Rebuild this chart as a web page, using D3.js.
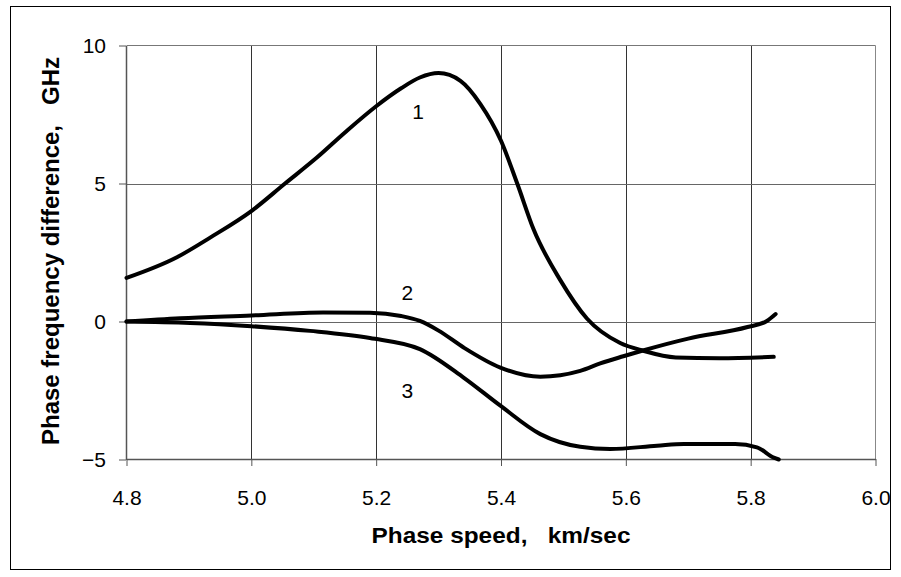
<!DOCTYPE html>
<html>
<head>
<meta charset="utf-8">
<script src="https://cdn.jsdelivr.net/npm/d3@7"></script>
<style>
  html, body { margin: 0; padding: 0; background: #fff; }
  svg { display: block; }
  text { font-family: "Liberation Sans", Arial, sans-serif; fill: #000; }
</style>
</head>
<body>
<svg id="chart" width="901" height="577"></svg>
<script>
// ---- data ----
const xTicks = [4.8, 5.0, 5.2, 5.4, 5.6, 5.8, 6.0];
const yTicks = [-5, 0, 5, 10];
const xTitle = "Phase speed,   km/sec";
const yTitle = "Phase frequency difference,   GHz";

const curve1 = [
  [4.80, 1.58], [4.88, 2.32], [4.934, 3.04], [5.00, 4.00], [5.054, 5.00],
  [5.105, 5.94], [5.15, 6.85], [5.20, 7.80], [5.24, 8.45], [5.27, 8.84],
  [5.30, 9.00], [5.335, 8.72], [5.367, 7.88], [5.40, 6.55], [5.426, 5.00],
  [5.452, 3.35], [5.495, 1.50], [5.538, 0.10], [5.591, -0.78], [5.628, -1.06],
  [5.68, -1.30], [5.75, -1.33], [5.837, -1.28]
];
const curve2 = [
  [4.80, 0.00], [4.886, 0.12], [5.00, 0.22], [5.115, 0.33], [5.19, 0.32],
  [5.24, 0.20], [5.27, 0.02], [5.30, -0.33], [5.34, -0.94], [5.399, -1.67],
  [5.463, -2.00], [5.527, -1.79], [5.559, -1.52], [5.596, -1.26], [5.626, -1.06],
  [5.70, -0.62], [5.795, -0.20], [5.826, 0.02], [5.840, 0.27]
];
const curve3 = [
  [4.80, 0.00], [4.902, -0.05], [5.00, -0.17], [5.094, -0.34], [5.19, -0.60],
  [5.27, -1.00], [5.34, -2.03], [5.399, -3.05], [5.463, -4.08], [5.527, -4.54],
  [5.575, -4.62], [5.65, -4.50], [5.693, -4.44], [5.775, -4.44], [5.81, -4.56],
  [5.837, -4.93], [5.845, -5.00]
];
const seriesLabels = ["1", "2", "3"];
const labelAnchors = [[5.267, 7.60], [5.250, 1.04], [5.250, -2.51]]; // data-space label positions

// ---- drawing ----
const svg = d3.select("#chart");
const x = d3.scaleLinear().domain([4.8, 6.0]).range([126.5, 875.5]);
const y = d3.scaleLinear().domain([-5, 10]).range([459.5, 45.5]);

// outer frame
svg.append("rect").attr("x", 10.5).attr("y", 6.5).attr("width", 880).attr("height", 563)
  .attr("fill", "none").attr("stroke", "#000").attr("stroke-width", 1);

// gridlines
const grid = svg.append("g");
grid.selectAll("line.v").data(xTicks.slice(1, -1)).enter().append("line")
  .attr("x1", d => Math.round(x(d)) + 0.5).attr("x2", d => Math.round(x(d)) + 0.5)
  .attr("y1", y(10)).attr("y2", y(-5))
  .attr("stroke", "#333").attr("stroke-width", 1);
grid.selectAll("line.h").data(yTicks.slice(1, -1)).enter().append("line")
  .attr("y1", d => Math.round(y(d)) + 0.5).attr("y2", d => Math.round(y(d)) + 0.5)
  .attr("x1", x(4.8)).attr("x2", x(6.0))
  .attr("stroke", "#666").attr("stroke-width", 1);

// plot frame top/right
svg.append("line").attr("x1", x(4.8)).attr("x2", x(6.0)).attr("y1", y(10)).attr("y2", y(10))
  .attr("stroke", "#777");
svg.append("line").attr("x1", x(6.0)).attr("x2", x(6.0)).attr("y1", y(10)).attr("y2", y(-5))
  .attr("stroke", "#888");

// axes
const xAxis = d3.axisBottom(x).tickValues(xTicks).tickFormat(d3.format(".1f"))
  .tickSizeInner(7).tickSizeOuter(0).tickPadding(24);
const gx = svg.append("g").attr("transform", `translate(0,${y(-5) - 0.5})`).call(xAxis);
gx.select(".domain").attr("stroke", "#555").attr("stroke-width", 1.5);
gx.selectAll(".tick line").attr("stroke", "#555");
gx.selectAll(".tick text").attr("font-size", 21).attr("font-family", '"Liberation Sans", Arial, sans-serif')
  .attr("fill", "#000");

const yAxis = d3.axisLeft(y).tickValues(yTicks).tickFormat(d3.format("d"))
  .tickSizeInner(7).tickSizeOuter(0).tickPadding(13);
const gy = svg.append("g").attr("transform", `translate(${x(4.8) - 0.5},0)`).call(yAxis);
gy.select(".domain").attr("stroke", "#555").attr("stroke-width", 1.5);
gy.selectAll(".tick line").attr("stroke", "#555");
gy.selectAll(".tick text").attr("font-size", 21).attr("font-family", '"Liberation Sans", Arial, sans-serif')
  .attr("fill", "#000");

// curves
const line = d3.line().x(d => x(d[0])).y(d => y(d[1])).curve(d3.curveMonotoneX);
[curve1, curve2, curve3].forEach(c => {
  svg.append("path").datum(c).attr("d", line)
    .attr("fill", "none").attr("stroke", "#000").attr("stroke-width", 4)
    .attr("stroke-linejoin", "round").attr("stroke-linecap", "round");
});

// curve labels
svg.selectAll("text.lab").data(seriesLabels).enter().append("text")
  .attr("class", "lab")
  .attr("x", (d, i) => x(labelAnchors[i][0]))
  .attr("y", (d, i) => y(labelAnchors[i][1]))
  .attr("text-anchor", "middle").attr("dominant-baseline", "central")
  .attr("font-size", 21).text(d => d);

// axis titles
svg.append("text").attr("x", 501).attr("y", 543).attr("text-anchor", "middle")
  .attr("font-size", 22).attr("font-weight", "bold")
  .attr("textLength", 259).attr("lengthAdjust", "spacingAndGlyphs")
  .style("white-space", "pre").text(xTitle);
svg.append("text").attr("transform", "translate(59,251) rotate(-90)")
  .attr("text-anchor", "middle").attr("font-size", 24).attr("font-weight", "bold")
  .attr("textLength", 388).attr("lengthAdjust", "spacingAndGlyphs")
  .style("white-space", "pre").text(yTitle);
</script>
</body>
</html>
